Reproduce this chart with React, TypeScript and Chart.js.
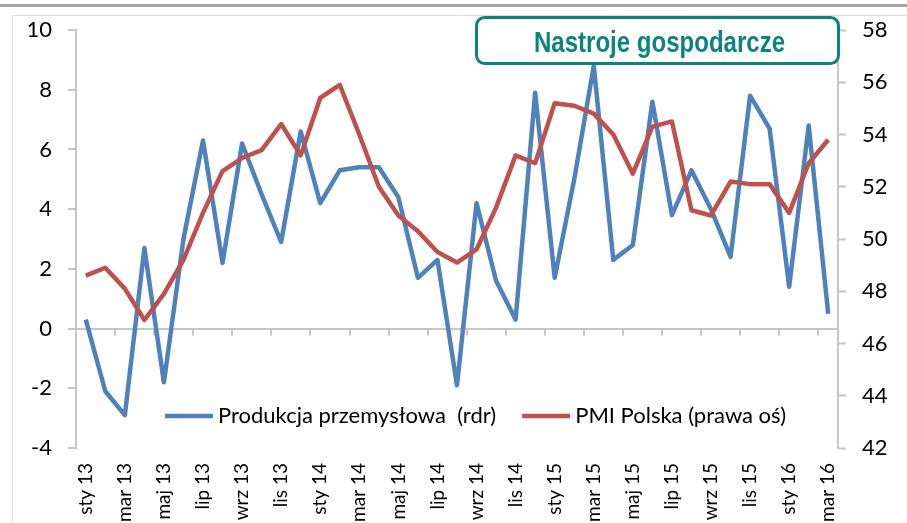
import React, { useEffect, useRef } from 'react';
import { Chart, registerables } from 'chart.js';

Chart.register(...registerables);

const categories: string[] = [
  'sty 13', 'lut 13', 'mar 13', 'kwi 13', 'maj 13', 'cze 13', 'lip 13', 'sie 13', 'wrz 13', 'paź 13', 'lis 13', 'gru 13',
  'sty 14', 'lut 14', 'mar 14', 'kwi 14', 'maj 14', 'cze 14', 'lip 14', 'sie 14', 'wrz 14', 'paź 14', 'lis 14', 'gru 14',
  'sty 15', 'lut 15', 'mar 15', 'kwi 15', 'maj 15', 'cze 15', 'lip 15', 'sie 15', 'wrz 15', 'paź 15', 'lis 15', 'gru 15',
  'sty 16', 'lut 16', 'mar 16',
];

const produkcja: number[] = [
  0.3, -2.1, -2.9, 2.7, -1.8, 3.0, 6.3, 2.2, 6.2, 4.5, 2.9, 6.6,
  4.2, 5.3, 5.4, 5.4, 4.4, 1.7, 2.3, -1.9, 4.2, 1.6, 0.3, 7.9,
  1.7, 5.0, 8.8, 2.3, 2.8, 7.6, 3.8, 5.3, 4.0, 2.4, 7.8, 6.7,
  1.4, 6.8, 0.5,
];

const pmi: number[] = [
  48.6, 48.9, 48.1, 46.9, 47.9, 49.2, 51.0, 52.6, 53.1, 53.4, 54.4, 53.2,
  55.4, 55.9, 54.0, 52.0, 50.9, 50.3, 49.5, 49.1, 49.6, 51.2, 53.2, 52.9,
  55.2, 55.1, 54.8, 54.0, 52.5, 54.3, 54.5, 51.1, 50.9, 52.2, 52.1, 52.1,
  51.0, 52.9, 53.8,
];

const leftTicks = { min: -4, max: 10, step: 2 };
const rightTicks = { min: 42, max: 58, step: 2 };

const seriesLabels = ['Produkcja przemysłowa  (rdr)', 'PMI Polska (prawa oś)'];
const titleText = 'Nastroje gospodarcze';

const BLUE = '#4F81BD';
const RED = '#C0504D';
const AXIS = '#c6c6c6';
const TEAL = '#0b857b';

const decorPlugin = {
  id: 'decor',
  beforeDraw(chart: any) {
    const ctx = chart.ctx;
    ctx.save();
    ctx.fillStyle = '#ffffff';
    ctx.fillRect(0, 0, chart.width, chart.height);
    ctx.fillStyle = '#a3a3a3';
    ctx.fillRect(0, 4, chart.width, 3);
    ctx.strokeStyle = '#dedede';
    ctx.lineWidth = 1;
    ctx.beginPath();
    ctx.moveTo(12.5, chart.height + 5);
    ctx.lineTo(12.5, 15.5);
    ctx.lineTo(chart.width + 5, 15.5);
    ctx.stroke();
    ctx.restore();
  },
  beforeDatasetsDraw(chart: any) {
    const ctx = chart.ctx;
    const xs = chart.scales.x;
    const ys = chart.scales.y;
    const y0 = ys.getPixelForValue(0);
    ctx.save();
    ctx.strokeStyle = AXIS;
    ctx.lineWidth = 2;
    ctx.beginPath();
    for (let k = 2; k < categories.length; k += 2) {
      const px = Math.round(xs.getPixelForValue(k - 0.5));
      ctx.moveTo(px, y0);
      ctx.lineTo(px, y0 + 7);
    }
    ctx.stroke();
    ctx.restore();
  },
};

const overlayPlugin = {
  id: 'overlay',
  afterDraw(chart: any) {
    const ctx = chart.ctx;
    const area = chart.chartArea;
    // legend
    ctx.save();
    ctx.font = '22px Lato';
    ctx.textBaseline = 'alphabetic';
    ctx.textAlign = 'left';
    let x = area.left + 89;
    const y = area.top + 386;
    chart.data.datasets.forEach((ds: any) => {
      ctx.strokeStyle = ds.borderColor;
      ctx.lineWidth = 4.5;
      ctx.lineCap = 'butt';
      ctx.beginPath();
      ctx.moveTo(x, y);
      ctx.lineTo(x + 48, y);
      ctx.stroke();
      x += 53;
      ctx.fillStyle = '#000000';
      ctx.fillText(ds.label, x, y + 7);
      x += ctx.measureText(ds.label).width + 26;
    });
    ctx.restore();

    // title box
    ctx.save();
    const right = area.right + 0.5;
    const left = right - 362;
    const top = 17.5;
    const bottom = 63.5;
    const r = 8;
    ctx.beginPath();
    ctx.moveTo(left + r, top);
    ctx.lineTo(right - r, top);
    ctx.arcTo(right, top, right, top + r, r);
    ctx.lineTo(right, bottom - r);
    ctx.arcTo(right, bottom, right - r, bottom, r);
    ctx.lineTo(left + r, bottom);
    ctx.arcTo(left, bottom, left, bottom - r, r);
    ctx.lineTo(left, top + r);
    ctx.arcTo(left, top, left + r, top, r);
    ctx.closePath();
    ctx.fillStyle = '#ffffff';
    ctx.fill();
    ctx.strokeStyle = TEAL;
    ctx.lineWidth = 3;
    ctx.stroke();
    ctx.font = "bold 30px 'Liberation Sans Narrow', 'Liberation Sans', Arial, sans-serif";
    const w = ctx.measureText(titleText).width;
    const sx = 251 / w;
    ctx.translate((left + right) / 2 + 2, 52);
    ctx.scale(sx, 1);
    ctx.fillStyle = TEAL;
    ctx.textAlign = 'center';
    ctx.textBaseline = 'alphabetic';
    ctx.fillText(titleText, 0, 0);
    ctx.restore();
  },
};

export default function App() {
  const ref = useRef<HTMLCanvasElement | null>(null);

  useEffect(() => {
    if (!ref.current) return;
    const chart = new Chart(ref.current, {
      type: 'line',
      data: {
        labels: categories,
        datasets: [
          {
            label: seriesLabels[0],
            data: produkcja,
            borderColor: BLUE,
            backgroundColor: BLUE,
            borderWidth: 4.5,
            pointRadius: 0,
            tension: 0,
            borderJoinStyle: 'round',
            yAxisID: 'y',
            order: 1,
          },
          {
            label: seriesLabels[1],
            data: pmi,
            borderColor: RED,
            backgroundColor: RED,
            borderWidth: 4.5,
            pointRadius: 0,
            tension: 0,
            borderJoinStyle: 'round',
            yAxisID: 'y1',
            order: 0,
          },
        ],
      },
      options: {
        animation: false,
        responsive: false,
        devicePixelRatio: 1,
        layout: { padding: { top: 30, left: 0, right: 0, bottom: 0 } },
        plugins: {
          legend: { display: false },
          tooltip: { enabled: false },
          title: { display: false },
        },
        scales: {
          x: {
            type: 'category',
            offset: true,
            grid: { display: false, drawTicks: false },
            border: { display: false },
            ticks: {
              autoSkip: false,
              maxRotation: 90,
              minRotation: 90,
              padding: 15,
              color: '#000000',
              font: { family: 'Lato', size: 19 },
              callback: function (this: any, val: any, idx: number) {
                return idx % 2 === 0 ? categories[idx] : '';
              },
            },
            afterFit: (s: any) => {
              s.height = 75;
            },
          },
          y: {
            position: 'left',
            min: leftTicks.min,
            max: leftTicks.max,
            ticks: {
              stepSize: leftTicks.step,
              padding: 16,
              color: '#000000',
              font: { family: 'Lato', size: 22 },
            },
            grid: {
              color: (c: any) => (c.tick && c.tick.value === 0 ? AXIS : 'rgba(0,0,0,0)'),
              lineWidth: 2,
              tickColor: AXIS,
              tickLength: 8,
              tickWidth: 2,
            },
            border: { display: true, color: AXIS, width: 2 },
            afterFit: (s: any) => {
              s.width = 76;
            },
          },
          y1: {
            position: 'right',
            min: rightTicks.min,
            max: rightTicks.max,
            ticks: {
              stepSize: rightTicks.step,
              padding: 16,
              color: '#000000',
              font: { family: 'Lato', size: 22 },
            },
            grid: {
              drawOnChartArea: false,
              tickColor: AXIS,
              tickLength: 8,
              tickWidth: 2,
            },
            border: { display: true, color: AXIS, width: 2 },
            afterFit: (s: any) => {
              s.width = 69;
            },
          },
        },
      } as any,
      plugins: [decorPlugin, overlayPlugin],
    });
    return () => chart.destroy();
  }, []);

  return (
    <div
      style={{
        position: 'fixed',
        left: 0,
        top: 0,
        width: 907,
        height: 523,
        overflow: 'hidden',
        background: '#ffffff',
      }}
    >
      <canvas ref={ref} width={907} height={523} style={{ display: 'block', width: 907, height: 523 }} />
    </div>
  );
}
